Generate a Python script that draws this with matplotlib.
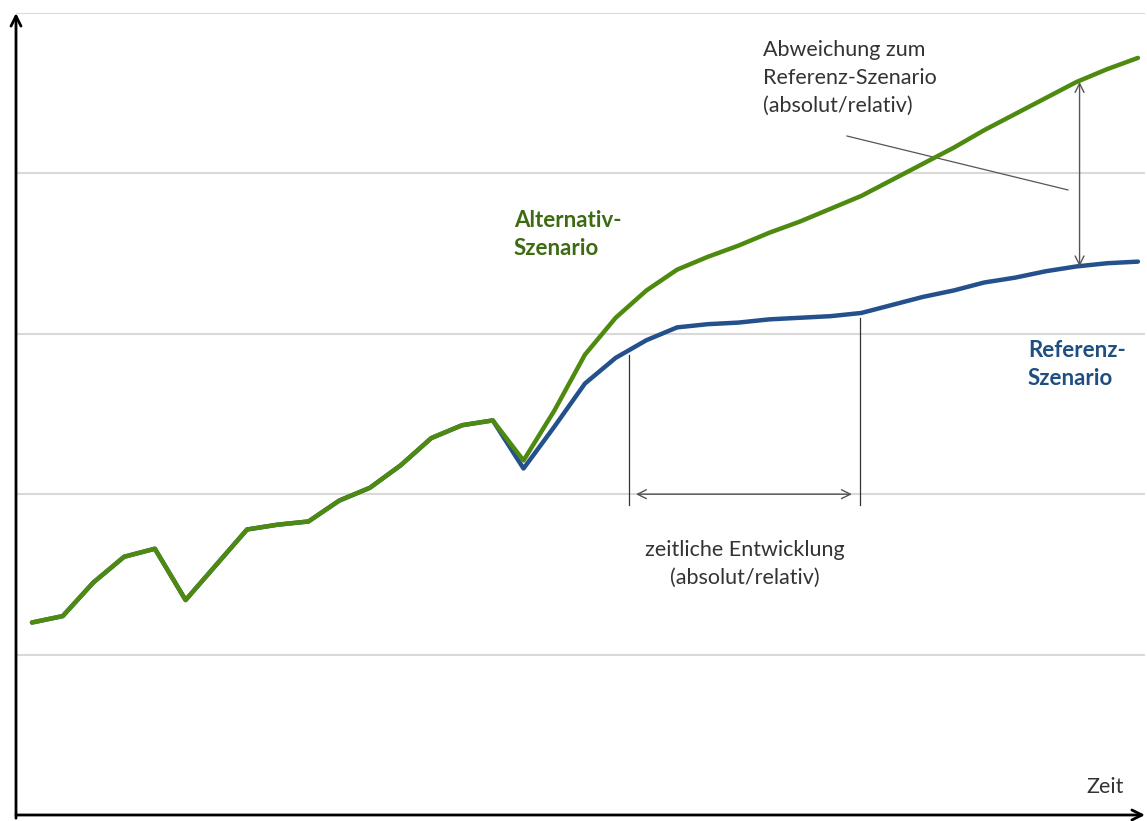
import numpy as np
import matplotlib.pyplot as plt

# Zeitpunkte (ohne Einheit)
zeit = np.arange(37)

# gemeinsamer Verlauf bis zum Knick, danach getrennt
gemeinsam = [1.20, 1.24, 1.45, 1.61, 1.66, 1.34, 1.56, 1.78, 1.81, 1.83,
             1.96, 2.04, 2.18, 2.35, 2.43, 2.46]
alternativ = gemeinsam + [2.21, 2.52, 2.87, 3.10, 3.27, 3.40, 3.48, 3.55, 3.63,
                          3.70, 3.78, 3.86, 3.96, 4.06, 4.16, 4.27, 4.37, 4.47,
                          4.57, 4.65, 4.72]
referenz = gemeinsam + [2.16, 2.42, 2.69, 2.85, 2.96, 3.04, 3.06, 3.07, 3.09,
                        3.10, 3.11, 3.13, 3.18, 3.23, 3.27, 3.32, 3.35, 3.39,
                        3.42, 3.44, 3.45]
gitter = [1, 2, 3, 4, 5]

gruen, gruen_txt = "#4f8a10", "#3d6b12"
blau, blau_txt = "#24508c", "#1f4e80"
grau = "#555555"

plt.rcParams['font.family'] = ['Lato', 'DejaVu Sans']

fig = plt.figure(figsize=(11.47, 8.21), dpi=100)
ax = fig.add_axes([16/1147, 6/821, (1145-16)/1147, (815-13)/821])
x0, x1 = -0.52, 36.23
ax.set_xlim(x0, x1)
ax.set_ylim(0, 5)
ax.axis('off')

for g in gitter:
    ax.axhline(g, color="#d9d9d9", lw=1.5, zorder=0)

ax.plot(zeit, referenz, color=blau, lw=3.2, solid_capstyle='round', zorder=3)
ax.plot(zeit, alternativ, color=gruen, lw=3.2, solid_capstyle='round', zorder=4)

# Achsen als Pfeile
ax.annotate("", xy=(x1, 0), xytext=(x0, 0), annotation_clip=False,
            arrowprops=dict(arrowstyle='->', lw=2, color='black', mutation_scale=18,
                            shrinkA=0, shrinkB=0))
ax.annotate("", xy=(x0, 5), xytext=(x0, -0.02), annotation_clip=False,
            arrowprops=dict(arrowstyle='->', lw=2, color='black', mutation_scale=18,
                            shrinkA=0, shrinkB=0))

# Abweichung (vertikaler Doppelpfeil)
xa = 34.1
ax.annotate("", xy=(xa, alternativ[34]), xytext=(xa, referenz[34]),
            arrowprops=dict(arrowstyle='<->', lw=1, color=grau, mutation_scale=16,
                            shrinkA=0, shrinkB=0))
ax.plot([26.53, 33.72], [4.233, 3.897], color=grau, lw=0.9)
ax.text(23.8, 4.595, "Abweichung zum\nReferenz-Szenario\n(absolut/relativ)",
        ha='left', va='center', fontsize=15.5, color="#333333", linespacing=1.5)

# zeitliche Entwicklung
ax.plot([19.43, 19.43], [2.868, 1.933], color="#333333", lw=0.9)
ax.plot([26.95, 26.95], [3.099, 1.933], color="#333333", lw=0.9)
ax.annotate("", xy=(19.66, 2.0), xytext=(26.69, 2.0),
            arrowprops=dict(arrowstyle='<->', lw=1, color=grau, mutation_scale=16,
                            shrinkA=0, shrinkB=0))
ax.text(23.2, 1.565, "zeitliche Entwicklung\n(absolut/relativ)",
        ha='center', va='center', fontsize=15.5, color="#333333", linespacing=1.45)

ax.text(15.69, 3.62, "Alternativ-\nSzenario", ha='left', va='center',
        fontsize=16, fontweight='bold', color=gruen_txt, linespacing=1.38)
ax.text(32.42, 2.81, "Referenz-\nSzenario", ha='left', va='center',
        fontsize=16, fontweight='bold', color=blau_txt, linespacing=1.38)

ax.text(34.93, 0.175, "Zeit", ha='center', va='center', fontsize=15.5, color="#333333")

fig.savefig("out.png", dpi=100)
